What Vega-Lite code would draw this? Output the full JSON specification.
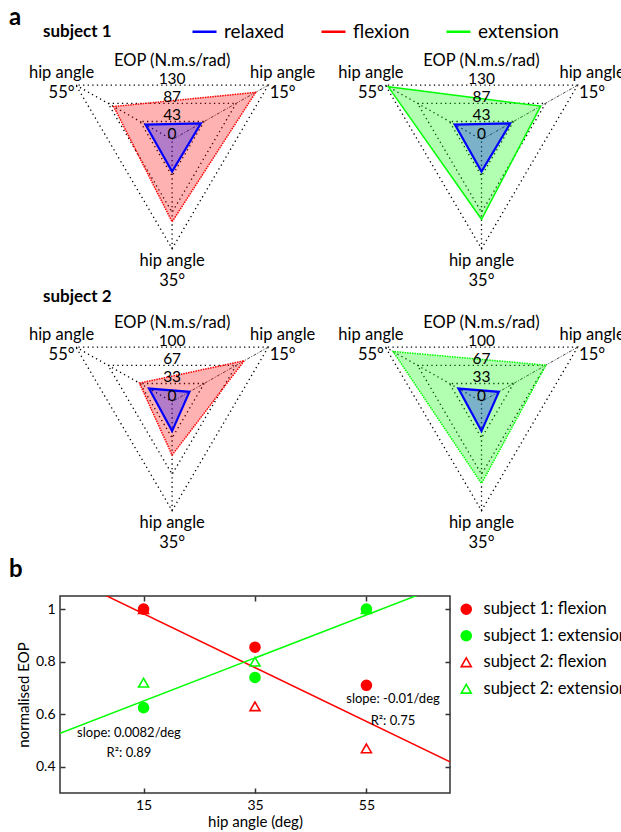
{
  "$schema": "https://vega.github.io/schema/vega-lite/v6.json",
  "padding": {"left": 8, "top": 6, "right": 0, "bottom": 0},
  "bounds": "flush",
  "align": "none",
  "columns": 2,
  "spacing": {"row": 22, "column": -80.6},
  "config": {
    "font": "Lato",
    "view": {"stroke": null},
    "axis": {"labelColor": "#000", "titleColor": "#000", "labelFont": "Lato", "titleFont": "Lato", "titleFontWeight": "normal", "grid": false, "domain": false, "tickColor": "#333", "tickWidth": 1.5},
    "legend": {"labelColor": "#000", "labelFont": "Lato"}
  },
  "datasets": {
    "radar": [
      {"subject": "subject 1", "cond": "flexion", "hip": 15, "eop": 113},
      {"subject": "subject 1", "cond": "flexion", "hip": 35, "eop": 98},
      {"subject": "subject 1", "cond": "flexion", "hip": 55, "eop": 79},
      {"subject": "subject 1", "cond": "extension", "hip": 15, "eop": 80},
      {"subject": "subject 1", "cond": "extension", "hip": 35, "eop": 95},
      {"subject": "subject 1", "cond": "extension", "hip": 55, "eop": 126},
      {"subject": "subject 1", "cond": "relaxed", "hip": 15, "eop": 39},
      {"subject": "subject 1", "cond": "relaxed", "hip": 35, "eop": 38},
      {"subject": "subject 1", "cond": "relaxed", "hip": 55, "eop": 36},
      {"subject": "subject 2", "cond": "flexion", "hip": 15, "eop": 75},
      {"subject": "subject 2", "cond": "flexion", "hip": 35, "eop": 49},
      {"subject": "subject 2", "cond": "flexion", "hip": 55, "eop": 34},
      {"subject": "subject 2", "cond": "extension", "hip": 15, "eop": 67},
      {"subject": "subject 2", "cond": "extension", "hip": 35, "eop": 75},
      {"subject": "subject 2", "cond": "extension", "hip": 55, "eop": 92},
      {"subject": "subject 2", "cond": "relaxed", "hip": 15, "eop": 18},
      {"subject": "subject 2", "cond": "relaxed", "hip": 35, "eop": 27},
      {"subject": "subject 2", "cond": "relaxed", "hip": 55, "eop": 24}
    ],
    "grid": [
      {"ring": 1, "hip": 15}, {"ring": 1, "hip": 35}, {"ring": 1, "hip": 55},
      {"ring": 2, "hip": 15}, {"ring": 2, "hip": 35}, {"ring": 2, "hip": 55},
      {"ring": 3, "hip": 15}, {"ring": 3, "hip": 35}, {"ring": 3, "hip": 55}
    ],
    "spokes": [{"hip": 15}, {"hip": 35}, {"hip": 55}],
    "vlabels": [
      {"hip": 15, "text": "hip angle\n15°"},
      {"hip": 35, "text": "hip angle\n35°"},
      {"hip": 55, "text": "hip angle\n55°"}
    ],
    "levels": [
      {"subject": "subject 1", "ring": 0, "label": "0"},
      {"subject": "subject 1", "ring": 1, "label": "43"},
      {"subject": "subject 1", "ring": 2, "label": "87"},
      {"subject": "subject 1", "ring": 3, "label": "130"},
      {"subject": "subject 2", "ring": 0, "label": "0"},
      {"subject": "subject 2", "ring": 1, "label": "33"},
      {"subject": "subject 2", "ring": 2, "label": "67"},
      {"subject": "subject 2", "ring": 3, "label": "100"}
    ],
    "pts": [
      {"series": "subject 1: flexion", "motion": "flexion", "hip": 15, "val": 1.0},
      {"series": "subject 1: flexion", "motion": "flexion", "hip": 35, "val": 0.855},
      {"series": "subject 1: flexion", "motion": "flexion", "hip": 55, "val": 0.71},
      {"series": "subject 1: extension", "motion": "extension", "hip": 15, "val": 0.625},
      {"series": "subject 1: extension", "motion": "extension", "hip": 35, "val": 0.74},
      {"series": "subject 1: extension", "motion": "extension", "hip": 55, "val": 1.0},
      {"series": "subject 2: flexion", "motion": "flexion", "hip": 15, "val": 1.0},
      {"series": "subject 2: flexion", "motion": "flexion", "hip": 35, "val": 0.63},
      {"series": "subject 2: flexion", "motion": "flexion", "hip": 55, "val": 0.47},
      {"series": "subject 2: extension", "motion": "extension", "hip": 15, "val": 0.72},
      {"series": "subject 2: extension", "motion": "extension", "hip": 35, "val": 0.80},
      {"series": "subject 2: extension", "motion": "extension", "hip": 55, "val": 1.0}
    ]
  },
  "resolve": {
    "scale": {"x": "independent", "y": "independent", "stroke": "independent", "fill": "independent", "shape": "independent", "color": "independent"},
    "legend": {"stroke": "independent", "fill": "independent", "shape": "independent", "color": "independent"}
  },
  "concat": [
    {
      "width": 277.5, "height": 239.8,
      "layer": [
        {"data": {"name": "grid"},
         "transform": [{"calculate": "datum.ring/3", "as": "r"}, {"calculate": "datum.hip == 15 ? PI/6 : (datum.hip == 55 ? 5*PI/6 : -PI/2)", "as": "ang"}, {"calculate": "datum.r*cos(datum.ang)", "as": "px"}, {"calculate": "datum.r*sin(datum.ang)", "as": "py"}],
         "mark": {"type": "line", "interpolate": "linear-closed", "stroke": "#000", "strokeWidth": 1.3, "strokeDash": [1.3, 3.3]},
         "encoding": {"x": {"field": "px", "type": "quantitative", "scale": {"domain": [-1.01, 1.49], "nice": false, "zero": false}, "axis": null},
                      "y": {"field": "py", "type": "quantitative", "scale": {"domain": [-1.35, 0.85], "nice": false, "zero": false}, "axis": null},
                      "detail": {"field": "ring"}, "order": {"field": "hip"}}},
        {"data": {"name": "spokes"},
         "transform": [{"filter": "datum.hip != 15"}, {"calculate": "datum.hip == 15 ? PI/6 : (datum.hip == 55 ? 5*PI/6 : -PI/2)", "as": "ang"}, {"calculate": "cos(datum.ang)", "as": "px"}, {"calculate": "sin(datum.ang)", "as": "py"}],
         "mark": {"type": "rule", "stroke": "#000", "strokeWidth": 1.3, "strokeDash": [1.3, 3.3]},
         "encoding": {"x": {"field": "px", "type": "quantitative"}, "y": {"field": "py", "type": "quantitative"}, "x2": {"datum": 0}, "y2": {"datum": 0}}},
        {"data": {"name": "spokes"},
         "transform": [{"filter": "datum.hip == 15"}, {"calculate": "datum.hip == 15 ? PI/6 : (datum.hip == 55 ? 5*PI/6 : -PI/2)", "as": "ang"}, {"calculate": "cos(datum.ang)", "as": "px"}, {"calculate": "sin(datum.ang)", "as": "py"}],
         "mark": {"type": "rule", "stroke": "#444", "strokeWidth": 1, "strokeDash": [3, 1.5, 1, 1.5]},
         "encoding": {"x": {"field": "px", "type": "quantitative"}, "y": {"field": "py", "type": "quantitative"}, "x2": {"datum": 0}, "y2": {"datum": 0}}},
        {"data": {"name": "radar"},
         "transform": [{"filter": "datum.subject == 'subject 1' && datum.cond == 'flexion'"}, {"calculate": "datum.eop/130", "as": "r"}, {"calculate": "datum.hip == 15 ? PI/6 : (datum.hip == 55 ? 5*PI/6 : -PI/2)", "as": "ang"}, {"calculate": "datum.r*cos(datum.ang)", "as": "px"}, {"calculate": "datum.r*sin(datum.ang)", "as": "py"}],
         "mark": {"type": "line", "interpolate": "linear-closed", "fillOpacity": 0.3, "strokeWidth": 1.5, "strokeDash": [1.5, 1]},
         "encoding": {"x": {"field": "px", "type": "quantitative"}, "y": {"field": "py", "type": "quantitative"}, "order": {"field": "hip"},
                      "stroke": {"field": "cond", "type": "nominal", "scale": {"domain": ["relaxed", "flexion", "extension"], "range": ["#0000ff", "#ff0000", "#00ff00"]},
                                 "legend": {"orient": "none", "legendX": 131, "legendY": -29, "direction": "horizontal", "title": null, "symbolType": "stroke", "symbolSize": 576, "symbolStrokeWidth": 2.5, "labelFontSize": 19, "labelOffset": 6, "columnPadding": 31, "padding": 0}},
                      "fill": {"field": "cond", "type": "nominal", "scale": {"domain": ["relaxed", "flexion", "extension"], "range": ["#0000ff", "#ff0000", "#00ff00"]},
                               "legend": {"orient": "none", "legendX": 131, "legendY": -29, "direction": "horizontal", "title": null, "symbolType": "stroke", "symbolSize": 576, "symbolStrokeWidth": 2.5, "labelFontSize": 19, "labelOffset": 6, "columnPadding": 31, "padding": 0}}}},
        {"data": {"name": "radar"},
         "transform": [{"filter": "datum.subject == 'subject 1' && datum.cond == 'relaxed'"}, {"calculate": "datum.eop/130", "as": "r"}, {"calculate": "datum.hip == 15 ? PI/6 : (datum.hip == 55 ? 5*PI/6 : -PI/2)", "as": "ang"}, {"calculate": "datum.r*cos(datum.ang)", "as": "px"}, {"calculate": "datum.r*sin(datum.ang)", "as": "py"}],
         "mark": {"type": "line", "interpolate": "linear-closed", "fillOpacity": 0.3, "strokeWidth": 2.2},
         "encoding": {"x": {"field": "px", "type": "quantitative"}, "y": {"field": "py", "type": "quantitative"}, "order": {"field": "hip"},
                      "stroke": {"field": "cond", "type": "nominal", "scale": {"domain": ["relaxed", "flexion", "extension"], "range": ["#0000ff", "#ff0000", "#00ff00"]},
                                 "legend": {"orient": "none", "legendX": 131, "legendY": -29, "direction": "horizontal", "title": null, "symbolType": "stroke", "symbolSize": 576, "symbolStrokeWidth": 2.5, "labelFontSize": 19, "labelOffset": 6, "columnPadding": 31, "padding": 0}},
                      "fill": {"field": "cond", "type": "nominal", "scale": {"domain": ["relaxed", "flexion", "extension"], "range": ["#0000ff", "#ff0000", "#00ff00"]},
                               "legend": {"orient": "none", "legendX": 131, "legendY": -29, "direction": "horizontal", "title": null, "symbolType": "stroke", "symbolSize": 576, "symbolStrokeWidth": 2.5, "labelFontSize": 19, "labelOffset": 6, "columnPadding": 31, "padding": 0}}}},
        {"data": {"name": "levels"},
         "transform": [{"filter": "datum.subject == 'subject 1'"}, {"calculate": "datum.ring/6", "as": "ly"}],
         "mark": {"type": "text", "fontSize": 15.5, "baseline": "alphabetic", "dy": -1},
         "encoding": {"x": {"datum": 0}, "y": {"field": "ly", "type": "quantitative"}, "text": {"field": "label"}}},
        {"data": {"values": [{"t": "EOP (N.m.s/rad)"}]},
         "mark": {"type": "text", "fontSize": 16.5, "baseline": "alphabetic", "dy": -19},
         "encoding": {"x": {"datum": 0}, "y": {"datum": 0.5}, "text": {"field": "t"}}},
        {"data": {"name": "vlabels"},
         "transform": [{"calculate": "1.15", "as": "r"}, {"calculate": "datum.hip == 15 ? PI/6 : (datum.hip == 55 ? 5*PI/6 : -PI/2)", "as": "ang"}, {"calculate": "datum.r*cos(datum.ang)", "as": "px"}, {"calculate": "datum.r*sin(datum.ang)", "as": "py"}],
         "mark": {"type": "text", "fontSize": 16.5, "lineBreak": "\n", "lineHeight": 20, "baseline": "middle", "dy": -4},
         "encoding": {"x": {"field": "px", "type": "quantitative"}, "y": {"field": "py", "type": "quantitative"}, "text": {"field": "text"}}},
        {"data": {"values": [{"t": "subject 1"}]},
         "mark": {"type": "text", "fontSize": 17, "fontWeight": "bold", "align": "left", "baseline": "alphabetic"},
         "encoding": {"x": {"datum": -1.163}, "y": {"datum": 0.945}, "text": {"field": "t"}}},
        {"data": {"values": [{"t": "a"}]},
         "mark": {"type": "text", "fontSize": 24, "fontWeight": "bold", "align": "left", "baseline": "alphabetic"},
         "encoding": {"x": {"datum": -1.4695}, "y": {"datum": 1.0505}, "text": {"field": "t"}}}
      ]
    },
    {
      "width": 277.5, "height": 239.8,
      "layer": [
        {"data": {"name": "grid"},
         "transform": [{"calculate": "datum.ring/3", "as": "r"}, {"calculate": "datum.hip == 15 ? PI/6 : (datum.hip == 55 ? 5*PI/6 : -PI/2)", "as": "ang"}, {"calculate": "datum.r*cos(datum.ang)", "as": "px"}, {"calculate": "datum.r*sin(datum.ang)", "as": "py"}],
         "mark": {"type": "line", "interpolate": "linear-closed", "stroke": "#000", "strokeWidth": 1.3, "strokeDash": [1.3, 3.3]},
         "encoding": {"x": {"field": "px", "type": "quantitative", "scale": {"domain": [-1.01, 1.49], "nice": false, "zero": false}, "axis": null},
                      "y": {"field": "py", "type": "quantitative", "scale": {"domain": [-1.35, 0.85], "nice": false, "zero": false}, "axis": null},
                      "detail": {"field": "ring"}, "order": {"field": "hip"}}},
        {"data": {"name": "spokes"},
         "transform": [{"filter": "datum.hip != 15"}, {"calculate": "datum.hip == 15 ? PI/6 : (datum.hip == 55 ? 5*PI/6 : -PI/2)", "as": "ang"}, {"calculate": "cos(datum.ang)", "as": "px"}, {"calculate": "sin(datum.ang)", "as": "py"}],
         "mark": {"type": "rule", "stroke": "#000", "strokeWidth": 1.3, "strokeDash": [1.3, 3.3]},
         "encoding": {"x": {"field": "px", "type": "quantitative"}, "y": {"field": "py", "type": "quantitative"}, "x2": {"datum": 0}, "y2": {"datum": 0}}},
        {"data": {"name": "spokes"},
         "transform": [{"filter": "datum.hip == 15"}, {"calculate": "datum.hip == 15 ? PI/6 : (datum.hip == 55 ? 5*PI/6 : -PI/2)", "as": "ang"}, {"calculate": "cos(datum.ang)", "as": "px"}, {"calculate": "sin(datum.ang)", "as": "py"}],
         "mark": {"type": "rule", "stroke": "#444", "strokeWidth": 1, "strokeDash": [3, 1.5, 1, 1.5]},
         "encoding": {"x": {"field": "px", "type": "quantitative"}, "y": {"field": "py", "type": "quantitative"}, "x2": {"datum": 0}, "y2": {"datum": 0}}},
        {"data": {"name": "radar"},
         "transform": [{"filter": "datum.subject == 'subject 1' && datum.cond == 'extension'"}, {"calculate": "datum.eop/130", "as": "r"}, {"calculate": "datum.hip == 15 ? PI/6 : (datum.hip == 55 ? 5*PI/6 : -PI/2)", "as": "ang"}, {"calculate": "datum.r*cos(datum.ang)", "as": "px"}, {"calculate": "datum.r*sin(datum.ang)", "as": "py"}],
         "mark": {"type": "line", "interpolate": "linear-closed", "fillOpacity": 0.3, "strokeWidth": 1.5},
         "encoding": {"x": {"field": "px", "type": "quantitative"}, "y": {"field": "py", "type": "quantitative"}, "order": {"field": "hip"},
                      "stroke": {"field": "cond", "type": "nominal", "scale": {"domain": ["relaxed", "flexion", "extension"], "range": ["#0000ff", "#ff0000", "#00ff00"]}, "legend": null},
                      "fill": {"field": "cond", "type": "nominal", "scale": {"domain": ["relaxed", "flexion", "extension"], "range": ["#0000ff", "#ff0000", "#00ff00"]}, "legend": null}}},
        {"data": {"name": "radar"},
         "transform": [{"filter": "datum.subject == 'subject 1' && datum.cond == 'relaxed'"}, {"calculate": "datum.eop/130", "as": "r"}, {"calculate": "datum.hip == 15 ? PI/6 : (datum.hip == 55 ? 5*PI/6 : -PI/2)", "as": "ang"}, {"calculate": "datum.r*cos(datum.ang)", "as": "px"}, {"calculate": "datum.r*sin(datum.ang)", "as": "py"}],
         "mark": {"type": "line", "interpolate": "linear-closed", "fillOpacity": 0.3, "strokeWidth": 2.2},
         "encoding": {"x": {"field": "px", "type": "quantitative"}, "y": {"field": "py", "type": "quantitative"}, "order": {"field": "hip"},
                      "stroke": {"field": "cond", "type": "nominal", "scale": {"domain": ["relaxed", "flexion", "extension"], "range": ["#0000ff", "#ff0000", "#00ff00"]}, "legend": null},
                      "fill": {"field": "cond", "type": "nominal", "scale": {"domain": ["relaxed", "flexion", "extension"], "range": ["#0000ff", "#ff0000", "#00ff00"]}, "legend": null}}},
        {"data": {"name": "levels"},
         "transform": [{"filter": "datum.subject == 'subject 1'"}, {"calculate": "datum.ring/6", "as": "ly"}],
         "mark": {"type": "text", "fontSize": 15.5, "baseline": "alphabetic", "dy": -1},
         "encoding": {"x": {"datum": 0}, "y": {"field": "ly", "type": "quantitative"}, "text": {"field": "label"}}},
        {"data": {"values": [{"t": "EOP (N.m.s/rad)"}]},
         "mark": {"type": "text", "fontSize": 16.5, "baseline": "alphabetic", "dy": -19},
         "encoding": {"x": {"datum": 0}, "y": {"datum": 0.5}, "text": {"field": "t"}}},
        {"data": {"name": "vlabels"},
         "transform": [{"calculate": "1.15", "as": "r"}, {"calculate": "datum.hip == 15 ? PI/6 : (datum.hip == 55 ? 5*PI/6 : -PI/2)", "as": "ang"}, {"calculate": "datum.r*cos(datum.ang)", "as": "px"}, {"calculate": "datum.r*sin(datum.ang)", "as": "py"}],
         "mark": {"type": "text", "fontSize": 16.5, "lineBreak": "\n", "lineHeight": 20, "baseline": "middle", "dy": -4},
         "encoding": {"x": {"field": "px", "type": "quantitative"}, "y": {"field": "py", "type": "quantitative"}, "text": {"field": "text"}}}
      ]
    },
    {
      "width": 277.5, "height": 264.1,
      "layer": [
        {"data": {"name": "grid"},
         "transform": [{"calculate": "datum.ring/3", "as": "r"}, {"calculate": "datum.hip == 15 ? PI/6 : (datum.hip == 55 ? 5*PI/6 : -PI/2)", "as": "ang"}, {"calculate": "datum.r*cos(datum.ang)", "as": "px"}, {"calculate": "datum.r*sin(datum.ang)", "as": "py"}],
         "mark": {"type": "line", "interpolate": "linear-closed", "stroke": "#000", "strokeWidth": 1.3, "strokeDash": [1.3, 3.3]},
         "encoding": {"x": {"field": "px", "type": "quantitative", "scale": {"domain": [-1.01, 1.49], "nice": false, "zero": false}, "axis": null},
                      "y": {"field": "py", "type": "quantitative", "scale": {"domain": [-1.573, 0.85], "nice": false, "zero": false}, "axis": null},
                      "detail": {"field": "ring"}, "order": {"field": "hip"}}},
        {"data": {"name": "spokes"},
         "transform": [{"filter": "datum.hip != 15"}, {"calculate": "datum.hip == 15 ? PI/6 : (datum.hip == 55 ? 5*PI/6 : -PI/2)", "as": "ang"}, {"calculate": "cos(datum.ang)", "as": "px"}, {"calculate": "sin(datum.ang)", "as": "py"}],
         "mark": {"type": "rule", "stroke": "#000", "strokeWidth": 1.3, "strokeDash": [1.3, 3.3]},
         "encoding": {"x": {"field": "px", "type": "quantitative"}, "y": {"field": "py", "type": "quantitative"}, "x2": {"datum": 0}, "y2": {"datum": 0}}},
        {"data": {"name": "spokes"},
         "transform": [{"filter": "datum.hip == 15"}, {"calculate": "datum.hip == 15 ? PI/6 : (datum.hip == 55 ? 5*PI/6 : -PI/2)", "as": "ang"}, {"calculate": "cos(datum.ang)", "as": "px"}, {"calculate": "sin(datum.ang)", "as": "py"}],
         "mark": {"type": "rule", "stroke": "#444", "strokeWidth": 1, "strokeDash": [3, 1.5, 1, 1.5]},
         "encoding": {"x": {"field": "px", "type": "quantitative"}, "y": {"field": "py", "type": "quantitative"}, "x2": {"datum": 0}, "y2": {"datum": 0}}},
        {"data": {"name": "radar"},
         "transform": [{"filter": "datum.subject == 'subject 2' && datum.cond == 'flexion'"}, {"calculate": "datum.eop/100", "as": "r"}, {"calculate": "datum.hip == 15 ? PI/6 : (datum.hip == 55 ? 5*PI/6 : -PI/2)", "as": "ang"}, {"calculate": "datum.r*cos(datum.ang)", "as": "px"}, {"calculate": "datum.r*sin(datum.ang)", "as": "py"}],
         "mark": {"type": "line", "interpolate": "linear-closed", "fillOpacity": 0.3, "strokeWidth": 1.5, "strokeDash": [1.5, 1]},
         "encoding": {"x": {"field": "px", "type": "quantitative"}, "y": {"field": "py", "type": "quantitative"}, "order": {"field": "hip"},
                      "stroke": {"field": "cond", "type": "nominal", "scale": {"domain": ["relaxed", "flexion", "extension"], "range": ["#0000ff", "#ff0000", "#00ff00"]}, "legend": null},
                      "fill": {"field": "cond", "type": "nominal", "scale": {"domain": ["relaxed", "flexion", "extension"], "range": ["#0000ff", "#ff0000", "#00ff00"]}, "legend": null}}},
        {"data": {"name": "radar"},
         "transform": [{"filter": "datum.subject == 'subject 2' && datum.cond == 'relaxed'"}, {"calculate": "datum.eop/100", "as": "r"}, {"calculate": "datum.hip == 15 ? PI/6 : (datum.hip == 55 ? 5*PI/6 : -PI/2)", "as": "ang"}, {"calculate": "datum.r*cos(datum.ang)", "as": "px"}, {"calculate": "datum.r*sin(datum.ang)", "as": "py"}],
         "mark": {"type": "line", "interpolate": "linear-closed", "fillOpacity": 0.3, "strokeWidth": 2.2},
         "encoding": {"x": {"field": "px", "type": "quantitative"}, "y": {"field": "py", "type": "quantitative"}, "order": {"field": "hip"},
                      "stroke": {"field": "cond", "type": "nominal", "scale": {"domain": ["relaxed", "flexion", "extension"], "range": ["#0000ff", "#ff0000", "#00ff00"]}, "legend": null},
                      "fill": {"field": "cond", "type": "nominal", "scale": {"domain": ["relaxed", "flexion", "extension"], "range": ["#0000ff", "#ff0000", "#00ff00"]}, "legend": null}}},
        {"data": {"name": "levels"},
         "transform": [{"filter": "datum.subject == 'subject 2'"}, {"calculate": "datum.ring/6", "as": "ly"}],
         "mark": {"type": "text", "fontSize": 15.5, "baseline": "alphabetic", "dy": -1},
         "encoding": {"x": {"datum": 0}, "y": {"field": "ly", "type": "quantitative"}, "text": {"field": "label"}}},
        {"data": {"values": [{"t": "EOP (N.m.s/rad)"}]},
         "mark": {"type": "text", "fontSize": 16.5, "baseline": "alphabetic", "dy": -19},
         "encoding": {"x": {"datum": 0}, "y": {"datum": 0.5}, "text": {"field": "t"}}},
        {"data": {"name": "vlabels"},
         "transform": [{"calculate": "1.15", "as": "r"}, {"calculate": "datum.hip == 15 ? PI/6 : (datum.hip == 55 ? 5*PI/6 : -PI/2)", "as": "ang"}, {"calculate": "datum.r*cos(datum.ang)", "as": "px"}, {"calculate": "datum.r*sin(datum.ang)", "as": "py"}],
         "mark": {"type": "text", "fontSize": 16.5, "lineBreak": "\n", "lineHeight": 20, "baseline": "middle", "dy": -4},
         "encoding": {"x": {"field": "px", "type": "quantitative"}, "y": {"field": "py", "type": "quantitative"}, "text": {"field": "text"}}},
        {"data": {"values": [{"t": "subject 2"}]},
         "mark": {"type": "text", "fontSize": 17, "fontWeight": "bold", "align": "left", "baseline": "alphabetic"},
         "encoding": {"x": {"datum": -1.163}, "y": {"datum": 0.914}, "text": {"field": "t"}}}
      ]
    },
    {
      "width": 277.5, "height": 264.1,
      "layer": [
        {"data": {"name": "grid"},
         "transform": [{"calculate": "datum.ring/3", "as": "r"}, {"calculate": "datum.hip == 15 ? PI/6 : (datum.hip == 55 ? 5*PI/6 : -PI/2)", "as": "ang"}, {"calculate": "datum.r*cos(datum.ang)", "as": "px"}, {"calculate": "datum.r*sin(datum.ang)", "as": "py"}],
         "mark": {"type": "line", "interpolate": "linear-closed", "stroke": "#000", "strokeWidth": 1.3, "strokeDash": [1.3, 3.3]},
         "encoding": {"x": {"field": "px", "type": "quantitative", "scale": {"domain": [-1.01, 1.49], "nice": false, "zero": false}, "axis": null},
                      "y": {"field": "py", "type": "quantitative", "scale": {"domain": [-1.573, 0.85], "nice": false, "zero": false}, "axis": null},
                      "detail": {"field": "ring"}, "order": {"field": "hip"}}},
        {"data": {"name": "spokes"},
         "transform": [{"filter": "datum.hip != 15"}, {"calculate": "datum.hip == 15 ? PI/6 : (datum.hip == 55 ? 5*PI/6 : -PI/2)", "as": "ang"}, {"calculate": "cos(datum.ang)", "as": "px"}, {"calculate": "sin(datum.ang)", "as": "py"}],
         "mark": {"type": "rule", "stroke": "#000", "strokeWidth": 1.3, "strokeDash": [1.3, 3.3]},
         "encoding": {"x": {"field": "px", "type": "quantitative"}, "y": {"field": "py", "type": "quantitative"}, "x2": {"datum": 0}, "y2": {"datum": 0}}},
        {"data": {"name": "spokes"},
         "transform": [{"filter": "datum.hip == 15"}, {"calculate": "datum.hip == 15 ? PI/6 : (datum.hip == 55 ? 5*PI/6 : -PI/2)", "as": "ang"}, {"calculate": "cos(datum.ang)", "as": "px"}, {"calculate": "sin(datum.ang)", "as": "py"}],
         "mark": {"type": "rule", "stroke": "#444", "strokeWidth": 1, "strokeDash": [3, 1.5, 1, 1.5]},
         "encoding": {"x": {"field": "px", "type": "quantitative"}, "y": {"field": "py", "type": "quantitative"}, "x2": {"datum": 0}, "y2": {"datum": 0}}},
        {"data": {"name": "radar"},
         "transform": [{"filter": "datum.subject == 'subject 2' && datum.cond == 'extension'"}, {"calculate": "datum.eop/100", "as": "r"}, {"calculate": "datum.hip == 15 ? PI/6 : (datum.hip == 55 ? 5*PI/6 : -PI/2)", "as": "ang"}, {"calculate": "datum.r*cos(datum.ang)", "as": "px"}, {"calculate": "datum.r*sin(datum.ang)", "as": "py"}],
         "mark": {"type": "line", "interpolate": "linear-closed", "fillOpacity": 0.3, "strokeWidth": 1.5, "strokeDash": [1.5, 1]},
         "encoding": {"x": {"field": "px", "type": "quantitative"}, "y": {"field": "py", "type": "quantitative"}, "order": {"field": "hip"},
                      "stroke": {"field": "cond", "type": "nominal", "scale": {"domain": ["relaxed", "flexion", "extension"], "range": ["#0000ff", "#ff0000", "#00ff00"]}, "legend": null},
                      "fill": {"field": "cond", "type": "nominal", "scale": {"domain": ["relaxed", "flexion", "extension"], "range": ["#0000ff", "#ff0000", "#00ff00"]}, "legend": null}}},
        {"data": {"name": "radar"},
         "transform": [{"filter": "datum.subject == 'subject 2' && datum.cond == 'relaxed'"}, {"calculate": "datum.eop/100", "as": "r"}, {"calculate": "datum.hip == 15 ? PI/6 : (datum.hip == 55 ? 5*PI/6 : -PI/2)", "as": "ang"}, {"calculate": "datum.r*cos(datum.ang)", "as": "px"}, {"calculate": "datum.r*sin(datum.ang)", "as": "py"}],
         "mark": {"type": "line", "interpolate": "linear-closed", "fillOpacity": 0.3, "strokeWidth": 2.2},
         "encoding": {"x": {"field": "px", "type": "quantitative"}, "y": {"field": "py", "type": "quantitative"}, "order": {"field": "hip"},
                      "stroke": {"field": "cond", "type": "nominal", "scale": {"domain": ["relaxed", "flexion", "extension"], "range": ["#0000ff", "#ff0000", "#00ff00"]}, "legend": null},
                      "fill": {"field": "cond", "type": "nominal", "scale": {"domain": ["relaxed", "flexion", "extension"], "range": ["#0000ff", "#ff0000", "#00ff00"]}, "legend": null}}},
        {"data": {"name": "levels"},
         "transform": [{"filter": "datum.subject == 'subject 2'"}, {"calculate": "datum.ring/6", "as": "ly"}],
         "mark": {"type": "text", "fontSize": 15.5, "baseline": "alphabetic", "dy": -1},
         "encoding": {"x": {"datum": 0}, "y": {"field": "ly", "type": "quantitative"}, "text": {"field": "label"}}},
        {"data": {"values": [{"t": "EOP (N.m.s/rad)"}]},
         "mark": {"type": "text", "fontSize": 16.5, "baseline": "alphabetic", "dy": -19},
         "encoding": {"x": {"datum": 0}, "y": {"datum": 0.5}, "text": {"field": "t"}}},
        {"data": {"name": "vlabels"},
         "transform": [{"calculate": "1.15", "as": "r"}, {"calculate": "datum.hip == 15 ? PI/6 : (datum.hip == 55 ? 5*PI/6 : -PI/2)", "as": "ang"}, {"calculate": "datum.r*cos(datum.ang)", "as": "px"}, {"calculate": "datum.r*sin(datum.ang)", "as": "py"}],
         "mark": {"type": "text", "fontSize": 16.5, "lineBreak": "\n", "lineHeight": 20, "baseline": "middle", "dy": -4},
         "encoding": {"x": {"field": "px", "type": "quantitative"}, "y": {"field": "py", "type": "quantitative"}, "text": {"field": "text"}}}
      ]
    },
    {
      "width": 390, "height": 197,
      "view": {"stroke": "#333", "strokeWidth": 1.5},
      "resolve": {"axis": {"x": "independent", "y": "independent"}},
      "layer": [
        {"data": {"name": "pts"},
         "transform": [{"regression": "val", "on": "hip", "groupby": ["motion"], "extent": [0, 70]}],
         "mark": {"type": "line", "clip": true, "strokeWidth": 1.5},
         "encoding": {
           "x": {"field": "hip", "type": "quantitative", "scale": {"domain": [0, 70], "nice": false, "zero": false},
                 "axis": {"orient": "bottom", "values": [15, 35, 55], "tickSize": -5, "labelPadding": 10, "labelFontSize": 14, "title": "hip angle (deg)", "titleFontSize": 15, "titlePadding": 2}},
           "y": {"field": "val", "type": "quantitative", "scale": {"domain": [0.3, 1.05], "nice": false, "zero": false},
                 "axis": {"orient": "left", "values": [0.4, 0.6, 0.8, 1], "format": "~g", "tickSize": -5, "labelPadding": 10, "labelFontSize": 14, "title": "normalised EOP", "titleFontSize": 15, "titlePadding": 4}},
           "color": {"field": "motion", "type": "nominal", "scale": {"domain": ["flexion", "extension"], "range": ["#ff0000", "#00ff00"]}, "legend": null}
         }},
        {"data": {"name": "pts"},
         "mark": {"type": "point", "opacity": 1, "strokeWidth": 1.6, "size": 100},
         "encoding": {
           "x": {"field": "hip", "type": "quantitative", "axis": {"orient": "top", "values": [15, 35, 55], "tickSize": -5, "labels": false, "title": null}},
           "y": {"field": "val", "type": "quantitative", "axis": {"orient": "right", "values": [0.4, 0.6, 0.8, 1], "tickSize": -5, "labels": false, "title": null}},
           "shape": {"field": "series", "type": "nominal", "scale": {"domain": ["subject 1: flexion", "subject 1: extension", "subject 2: flexion", "subject 2: extension"], "range": ["circle", "circle", "triangle-up", "triangle-up"]},
                     "legend": {"orient": "none", "legendX": 398, "legendY": 5, "title": null, "labelFontSize": 16.5, "labelOffset": 9, "rowPadding": 9.5, "symbolSize": 100, "symbolStrokeWidth": 1.6, "padding": 0}},
           "fill": {"field": "series", "type": "nominal", "scale": {"domain": ["subject 1: flexion", "subject 1: extension", "subject 2: flexion", "subject 2: extension"], "range": ["#ff0000", "#00ff00", "transparent", "transparent"]},
                    "legend": {"orient": "none", "legendX": 398, "legendY": 5, "title": null, "labelFontSize": 16.5, "labelOffset": 9, "rowPadding": 9.5, "symbolSize": 100, "symbolStrokeWidth": 1.6, "padding": 0}},
           "stroke": {"field": "series", "type": "nominal", "scale": {"domain": ["subject 1: flexion", "subject 1: extension", "subject 2: flexion", "subject 2: extension"], "range": ["#ff0000", "#00ff00", "#ff0000", "#00ff00"]},
                      "legend": {"orient": "none", "legendX": 398, "legendY": 5, "title": null, "labelFontSize": 16.5, "labelOffset": 9, "rowPadding": 9.5, "symbolSize": 100, "symbolStrokeWidth": 1.6, "padding": 0}}
         }},
        {"data": {"values": [{"t": "slope: 0.0082/deg"}]},
         "mark": {"type": "text", "fontSize": 13, "baseline": "middle"},
         "encoding": {"x": {"datum": 12.38, "axis": null}, "y": {"datum": 0.529, "axis": null}, "text": {"field": "t"}}},
        {"data": {"values": [{"t": "R²: 0.89"}]},
         "mark": {"type": "text", "fontSize": 13, "baseline": "middle"},
         "encoding": {"x": {"datum": 12.38, "axis": null}, "y": {"datum": 0.453, "axis": null}, "text": {"field": "t"}}},
        {"data": {"values": [{"t": "slope: -0.01/deg"}]},
         "mark": {"type": "text", "fontSize": 13, "baseline": "middle"},
         "encoding": {"x": {"datum": 59.77, "axis": null}, "y": {"datum": 0.6565, "axis": null}, "text": {"field": "t"}}},
        {"data": {"values": [{"t": "R²: 0.75"}]},
         "mark": {"type": "text", "fontSize": 13, "baseline": "middle"},
         "encoding": {"x": {"datum": 59.77, "axis": null}, "y": {"datum": 0.576, "axis": null}, "text": {"field": "t"}}},
        {"data": {"values": [{"t": "b"}]},
         "mark": {"type": "text", "fontSize": 24, "fontWeight": "bold", "align": "left", "baseline": "alphabetic"},
         "encoding": {"x": {"datum": -9.155, "axis": null}, "y": {"datum": 1.122, "axis": null}, "text": {"field": "t"}}}
      ]
    }
  ]
}
